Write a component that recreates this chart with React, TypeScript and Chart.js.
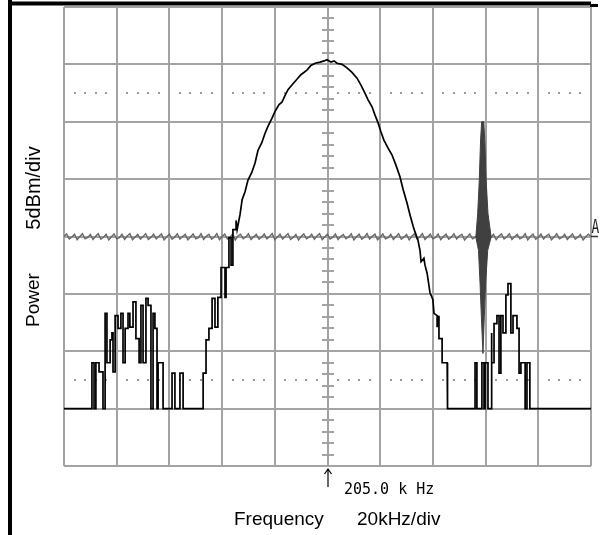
import React, { useEffect, useRef } from "react";
import { Chart, registerables } from "chart.js";

Chart.register(...registerables);

// Axis set-up (spectrum analyser screen: 10 x 8 divisions)
const FREQ_MIN = 105; // kHz, left edge
const FREQ_DIV = 20; // kHz per division
const FREQ_DIVS = 10;
const CENTER_FREQ = 205; // kHz
const POWER_MAX = 0; // dBm, top edge
const POWER_DIV = 5; // dBm per division
const POWER_DIVS = 8;
const DOTTED_LEVELS = [-7.5, -32.5];
const REF_LEVEL = -20;

// Text
const Y_UNIT_LABEL = "5dBm/div";
const Y_NAME_LABEL = "Power";
const X_NAME_LABEL = "Frequency";
const X_UNIT_LABEL = "20kHz/div";
const CENTER_LABEL = "205.0 k Hz";
const MARKER_LABEL = "A";

// Black spectrum trace: [frequency kHz, power dBm]
const spectrumTrace: [number, number][] = [
  [105.0, -35], [115.6, -35], [115.6, -31.0], [116.4, -31.0], [116.4, -35], [117.1, -35],
  [117.1, -31.0], [118.3, -31.0], [118.3, -31.8], [119.8, -31.8], [119.8, -35], [120.6, -35],
  [120.6, -26.7], [121.3, -26.7], [121.3, -31.0], [122.5, -31.0], [122.5, -29.0], [123.2, -29.0],
  [123.2, -28.4], [123.6, -28.4], [123.6, -31.8], [124.4, -31.8], [124.4, -26.9], [125.5, -26.9],
  [125.5, -28.0], [126.6, -28.0], [126.6, -26.7], [127.4, -26.7], [127.4, -31.0], [128.2, -31.0],
  [128.2, -28.0], [129.3, -28.0], [129.3, -26.7], [130.0, -26.7], [130.0, -27.9], [131.2, -27.9],
  [131.2, -25.7], [132.3, -25.7], [132.3, -28.9], [133.5, -28.9], [133.5, -31.0], [134.2, -31.0],
  [134.2, -26.0], [135.0, -26.0], [135.0, -31.0], [136.1, -31.0], [136.1, -25.4], [136.9, -25.4],
  [136.9, -26.0], [138.0, -26.0], [138.0, -35], [138.8, -35], [138.8, -26.7], [139.5, -26.7],
  [139.5, -28.0], [140.3, -28.0], [140.3, -35], [140.7, -35], [140.7, -31.0], [142.6, -31.0],
  [142.6, -35], [146.0, -35], [146.0, -31.9], [147.1, -31.9], [147.1, -35], [149.0, -35],
  [149.0, -31.9], [150.2, -31.9], [150.2, -35], [157.8, -35], [157.8, -31.9], [158.9, -31.9],
  [158.9, -29.0], [160.0, -29.0], [160.0, -28.0], [161.2, -28.0], [161.2, -25.4], [162.3, -25.4],
  [162.3, -27.9], [163.4, -27.9], [163.4, -25.3], [164.6, -25.3], [164.6, -22.7], [166.1, -22.7],
  [166.1, -25.3], [166.5, -25.3], [166.5, -22.7], [167.6, -22.7], [167.6, -20.1], [168.4, -20.1],
  [168.4, -22.5], [169.1, -22.5], [169.1, -19.4], [170.3, -19.4], [170.3, -18.6], [170.7, -19.4],
  [171.8, -18.1], [172.6, -16.8], [173.7, -16.1], [174.8, -15.1], [176.3, -14.4], [177.5, -13.6],
  [178.6, -12.5], [180.1, -11.8], [181.3, -11.0], [182.4, -10.4], [183.9, -9.7], [185.1, -9.1],
  [186.6, -8.5], [187.7, -8.3], [188.9, -7.7], [190.0, -7.2], [191.5, -6.8], [193.4, -6.3],
  [194.9, -5.9], [197.2, -5.5], [198.7, -5.1], [200.3, -4.9], [202.2, -4.8], [203.7, -4.7],
  [204.8, -4.6], [206.3, -4.8], [207.5, -4.7], [208.6, -4.9], [210.5, -5.0], [212.4, -5.3],
  [214.3, -5.7], [216.2, -6.2], [217.7, -6.8], [219.2, -7.5], [220.4, -8.1], [221.9, -8.7],
  [223.0, -9.4], [224.2, -10.1], [225.3, -10.9], [226.4, -11.6], [228.0, -12.3], [229.5, -12.9],
  [231.0, -13.8], [232.5, -14.8], [233.7, -15.9], [235.2, -17.1], [236.3, -18.1], [237.5, -19.1],
  [238.2, -19.6], [239.3, -20.3], [240.1, -21.2], [240.5, -22.2], [241.6, -21.9], [242.0, -22.5],
  [242.8, -23.2], [243.9, -24.9], [245.0, -25.5], [245.4, -26.7], [246.6, -26.9], [246.6, -27.9],
  [247.3, -26.9], [247.3, -28.9], [248.5, -28.9], [248.5, -31.0], [250.4, -31.0], [250.4, -31.8],
  [250.7, -35], [261.0, -35], [261.0, -31.0], [261.7, -31.0], [261.7, -35], [263.6, -35],
  [263.6, -31.0], [264.4, -31.0], [264.4, -35], [264.8, -35], [264.8, -31.0], [265.9, -31.0],
  [265.9, -35], [267.1, -35], [267.1, -28.4], [267.4, -28.4], [267.4, -31.0], [268.2, -31.0],
  [268.2, -27.6], [269.3, -27.6], [269.3, -26.9], [270.1, -26.9], [270.1, -31.9], [270.8, -31.9],
  [270.8, -26.9], [271.6, -26.9], [271.6, -28.4], [272.7, -28.4], [272.7, -25.1], [273.5, -25.1],
  [273.5, -24.1], [274.6, -24.1], [274.6, -28.4], [275.4, -28.4], [275.4, -26.9], [276.9, -26.9],
  [276.9, -28.0], [277.7, -28.0], [277.7, -31.9], [278.4, -31.9], [278.4, -31.0], [280.0, -31.0],
  [280.0, -35], [280.7, -35], [280.7, -31.0], [281.8, -31.0], [281.8, -35], [305.0, -35],
];

// Dark grey spur outline (closed shape): [frequency kHz, power dBm]
const spurOutline: [number, number][] = [
  [263.5, -10.0], [264.3, -10.0], [264.7, -11.6], [265.2, -15.1], [265.9, -18.0], [267.1, -20.05],
  [265.8, -21.2], [265.0, -24.1], [264.5, -27.0], [264.0, -30.2], [263.4, -27.0], [262.9, -24.1],
  [262.3, -21.2], [261.3, -20.05], [262.0, -18.0], [262.6, -15.1], [263.1, -11.6], [263.5, -10.0],
];

// Grey reference trace "A", one sample per kHz from FREQ_MIN
const REF_STEP = 1;
const refTrace = [
  -20.0, -19.78, -20.22, -20.05, -19.8, -20.28, -20.0, -19.76, -20.2, -20.08,
  -19.82, -20.26, -19.98, -19.75, -20.24, -20.06, -19.8, -20.3, -20.02, -19.78,
  -20.2, -20.1, -19.8, -20.25, -19.96, -19.76, -20.28, -20.04, -19.82, -20.22,
  -20.0, -19.75, -20.26, -20.08, -19.8, -20.2, -19.98, -19.78, -20.3, -20.02,
  -19.8, -20.24, -20.06, -19.76, -20.22, -20.0, -19.82, -20.28, -20.04, -19.78,
  -20.2, -20.1, -19.76, -20.26, -19.98, -19.8, -20.24, -20.06, -19.75, -20.28,
  -20.0, -19.8, -20.22, -20.08, -19.78, -20.3, -19.96, -19.8, -20.2, -20.04,
  -19.76, -20.26, -20.02, -19.82, -20.24, -20.06, -19.78, -20.2, -20.0, -19.75,
  -20.28, -20.04, -19.8, -20.22, -19.98, -19.76, -20.26, -20.08, -19.82, -20.3,
  -20.0, -19.78, -20.2, -20.06, -19.8, -20.24, -19.96, -19.75, -20.28, -20.02,
  -19.8, -20.22, -20.08, -19.78, -20.26, -20.0, -19.82, -20.2, -20.04, -19.76,
  -20.3, -20.02, -19.8, -20.24, -20.06, -19.75, -20.22, -19.98, -19.8, -20.28,
  -20.04, -19.78, -20.2, -20.1, -19.8, -20.26, -20.0, -19.76, -20.24, -20.06,
  -19.82, -20.3, -19.98, -19.78, -20.22, -20.04, -19.75, -20.26, -20.02, -19.8,
  -20.2, -20.08, -19.78, -20.28, -20.0, -19.8, -20.24, -20.06, -19.76, -20.22,
  -19.96, -19.8, -20.3, -20.04, -19.78, -20.2, -20.08, -19.82, -20.26, -20.0,
  -19.75, -20.24, -20.06, -19.8, -20.28, -19.98, -19.78, -20.22, -20.04, -19.76,
  -20.26, -20.02, -19.82, -20.2, -20.08, -19.75, -20.3, -20.0, -19.8, -20.24,
  -20.06, -19.78, -20.22, -19.96, -19.8, -20.28, -20.04, -19.76, -20.2, -20.08,
  -19.8, -20.26, -20.0, -19.78, -20.24, -20.06, -19.82, -20.3, -20.02, -19.8,
  -20.0,
];

const GRID_COLOR = "#a3a3a3";
const DOT_COLOR = "#9a9a9a";
const SANS = '"Liberation Sans", Arial, sans-serif';
const MONO = '"DejaVu Sans Mono", monospace';

const FREQ_MAX = FREQ_MIN + FREQ_DIV * FREQ_DIVS;
const POWER_MIN = POWER_MAX - POWER_DIV * POWER_DIVS;

const scopeOverlay = {
  id: "scopeOverlay",
  beforeDraw(chart: any) {
    const { ctx, width, height } = chart;
    ctx.save();
    ctx.fillStyle = "#ffffff";
    ctx.fillRect(0, 0, width, height);
    ctx.restore();
  },
  beforeDatasetsDraw(chart: any) {
    const { ctx } = chart;
    const x = chart.scales.x;
    const y = chart.scales.y;
    const cx = Math.round(x.getPixelForValue(CENTER_FREQ));
    ctx.save();
    // minor ticks on the centre vertical graticule line
    ctx.strokeStyle = GRID_COLOR;
    ctx.lineWidth = 2;
    const minor = POWER_DIV / 5;
    for (let i = 1; i < POWER_DIVS * 5; i++) {
      if (i % 5 === 0) continue;
      const py = Math.round(y.getPixelForValue(POWER_MIN + i * minor));
      ctx.beginPath();
      ctx.moveTo(cx - 6, py);
      ctx.lineTo(cx + 6, py);
      ctx.stroke();
    }
    // dotted graticule lines
    ctx.fillStyle = DOT_COLOR;
    for (const lvl of DOTTED_LEVELS) {
      const py = Math.round(y.getPixelForValue(lvl));
      for (let i = 1; i < FREQ_DIVS * 5; i++) {
        if (i % 5 === 0) continue;
        const px = Math.round(x.getPixelForValue(FREQ_MIN + (i * FREQ_DIV) / 5));
        ctx.fillRect(px - 1, py - 1, 2, 2);
      }
    }
    ctx.restore();
  },
  afterDraw(chart: any) {
    const { ctx, chartArea: a, height } = chart;
    const x = chart.scales.x;
    const y = chart.scales.y;
    const cx = Math.round(x.getPixelForValue(CENTER_FREQ));
    ctx.save();
    // black frame pieces
    ctx.fillStyle = "#000000";
    ctx.fillRect(8, 0, 4, height);
    ctx.fillRect(8, 1.5, a.right - 8, 4);
    ctx.fillRect(a.right - 1, 4, 8, 3);

    // marker "A" at reference level
    const refY = y.getPixelForValue(REF_LEVEL);
    ctx.strokeStyle = "#333333";
    ctx.lineWidth = 1.5;
    ctx.beginPath();
    ctx.moveTo(a.right, refY);
    ctx.lineTo(a.right + 7, refY);
    ctx.stroke();
    ctx.fillStyle = "#222222";
    ctx.font = `16px ${MONO}`;
    ctx.textAlign = "left";
    ctx.textBaseline = "alphabetic";
    ctx.save();
    ctx.translate(a.right + 0.5, refY - 4);
    ctx.scale(0.8, 1.25);
    ctx.fillText(MARKER_LABEL, 0, 0);
    ctx.restore();

    // centre arrow
    ctx.strokeStyle = "#000000";
    ctx.lineWidth = 1.2;
    ctx.beginPath();
    ctx.moveTo(cx, a.bottom + 3);
    ctx.lineTo(cx, a.bottom + 21);
    ctx.moveTo(cx - 3.5, a.bottom + 8);
    ctx.lineTo(cx, a.bottom + 3);
    ctx.lineTo(cx + 3.5, a.bottom + 8);
    ctx.stroke();

    ctx.fillStyle = "#000000";
    ctx.font = `15px ${MONO}`;
    ctx.fillText(CENTER_LABEL, cx + 16, a.bottom + 28);

    ctx.font = `19px ${SANS}`;
    ctx.fillText(X_NAME_LABEL, 234, a.bottom + 59);
    ctx.fillText(X_UNIT_LABEL, 357, a.bottom + 59);

    // vertical labels
    ctx.save();
    ctx.translate(34, 0);
    ctx.rotate(-Math.PI / 2);
    ctx.textAlign = "center";
    ctx.textBaseline = "middle";
    ctx.font = `20px ${SANS}`;
    ctx.fillText(Y_UNIT_LABEL, -188, 0);
    ctx.font = `19px ${SANS}`;
    ctx.fillText(Y_NAME_LABEL, -300, 0);
    ctx.restore();

    ctx.restore();
  },
};

export default function App() {
  const canvasRef = useRef<HTMLCanvasElement>(null);

  useEffect(() => {
    const canvas = canvasRef.current;
    if (!canvas) return;
    const freqTicks = Array.from({ length: FREQ_DIVS + 1 }, (_, i) => FREQ_MIN + i * FREQ_DIV);
    const powerTicks = Array.from({ length: POWER_DIVS + 1 }, (_, i) => POWER_MIN + i * POWER_DIV);

    const chart = new Chart(canvas, {
      type: "line",
      data: {
        datasets: [
          {
            label: "Spectrum",
            data: spectrumTrace.map(([f, p]) => ({ x: f, y: p })),
            borderColor: "#000000",
            borderWidth: 1.7,
            pointRadius: 0,
            fill: false,
            tension: 0,
            order: 0,
          },
          {
            label: "Spur",
            data: spurOutline.map(([f, p]) => ({ x: f, y: p })),
            borderColor: "#404040",
            backgroundColor: "#404040",
            borderWidth: 1,
            pointRadius: 0,
            fill: "shape",
            tension: 0,
            order: 1,
          },
          {
            label: "Reference A",
            data: refTrace.map((p, i) => ({ x: FREQ_MIN + i * REF_STEP, y: p })),
            borderColor: "#666666",
            borderWidth: 1.4,
            pointRadius: 0,
            fill: false,
            tension: 0,
            order: 2,
          },
        ] as any,
      },
      options: {
        responsive: false,
        animation: false,
        devicePixelRatio: 1,
        events: [],
        layout: { padding: { left: 64, top: 7, right: 12, bottom: 69 } },
        plugins: {
          legend: { display: false },
          tooltip: { enabled: false },
          title: { display: false },
        },
        scales: {
          x: {
            type: "linear",
            min: FREQ_MIN,
            max: FREQ_MAX,
            afterBuildTicks: (axis: any) => {
              axis.ticks = freqTicks.map((v) => ({ value: v }));
            },
            ticks: { display: false },
            grid: { color: GRID_COLOR, lineWidth: 2, drawTicks: false },
            border: { display: false },
          },
          y: {
            type: "linear",
            min: POWER_MIN,
            max: POWER_MAX,
            afterBuildTicks: (axis: any) => {
              axis.ticks = powerTicks.map((v) => ({ value: v }));
            },
            ticks: { display: false },
            grid: { color: GRID_COLOR, lineWidth: 2, drawTicks: false },
            border: { display: false },
          },
        },
      } as any,
      plugins: [scopeOverlay],
    });
    return () => chart.destroy();
  }, []);

  return (
    <div style={{ position: "absolute", left: 0, top: 0, width: 603, height: 535, background: "#ffffff" }}>
      <canvas ref={canvasRef} width={603} height={535} style={{ display: "block", width: 603, height: 535 }} />
    </div>
  );
}
